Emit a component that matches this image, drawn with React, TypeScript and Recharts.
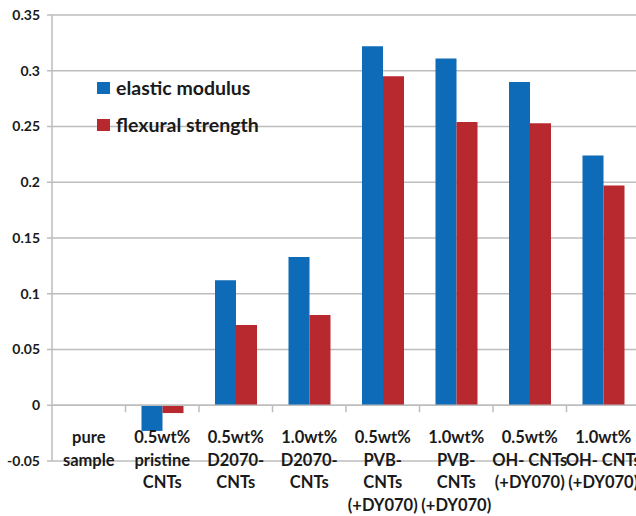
import { BarChart, Bar, XAxis, YAxis, CartesianGrid, Legend, ReferenceLine } from 'recharts';

const categories = [
  'pure\nsample',
  '0.5wt%\npristine\nCNTs',
  '0.5wt%\nD2070-\nCNTs',
  '1.0wt%\nD2070-\nCNTs',
  '0.5wt%\nPVB-\nCNTs\n(+DY070)',
  '1.0wt%\nPVB-\nCNTs\n(+DY070)',
  '0.5wt%\nOH- CNTs\n(+DY070)',
  '1.0wt%\nOH- CNTs\n(+DY070)',
];
const elasticModulus = [0, -0.023, 0.112, 0.133, 0.322, 0.311, 0.29, 0.224];
const flexuralStrength = [0, -0.007, 0.072, 0.081, 0.295, 0.254, 0.253, 0.197];
const yTicks = [-0.05, 0, 0.05, 0.1, 0.15, 0.2, 0.25, 0.3, 0.35];

const data = categories.map((name, i) => ({
  name,
  elastic: elasticModulus[i],
  flexural: flexuralStrength[i],
}));

const BLUE = '#0d6bb8';
const RED = '#b8282f';
const AXIS = '#bdbdbd';

const CategoryTick = (props: any) => {
  const { x, y, payload } = props;
  const lines = String(payload.value).split('\n');
  return (
    <text
      x={x}
      y={y}
      textAnchor="middle"
      fontFamily="Lato"
      fontWeight={700}
      fontSize={16.5}
      fill="#1a1a1a"
    >
      {lines.map((line, i) => (
        <tspan key={i} x={x} y={y - 24 + i * 22.7} dominantBaseline="central">
          {line}
        </tspan>
      ))}
    </text>
  );
};

// zero line with little tick marks between categories
const ZeroLine = (props: any) => {
  const { x1, x2, y1 } = props;
  const n = categories.length;
  const step = (x2 - x1) / n;
  return (
    <g>
      <line x1={x1} x2={x2} y1={y1} y2={y1} stroke={AXIS} strokeWidth={1.5} />
      {categories.slice(1).map((_, k) => (
        <line
          key={k}
          x1={x1 + step * (k + 1)}
          x2={x1 + step * (k + 1)}
          y1={y1}
          y2={y1 + 7}
          stroke={AXIS}
          strokeWidth={1.5}
        />
      ))}
    </g>
  );
};

const LegendContent = (props: any) => {
  const { payload } = props;
  return (
    <div style={{ fontFamily: 'Lato', fontWeight: 700, fontSize: 19.5, color: '#1a1a1a' }}>
      {(payload || []).map((p: any) => (
        <div key={p.value} style={{ display: 'flex', alignItems: 'center', height: 37 }}>
          <span
            style={{ width: 13, height: 12, background: p.color, display: 'inline-block', marginRight: 6 }}
          />
          <span>{p.value}</span>
        </div>
      ))}
    </div>
  );
};

export default function App() {
  return (
    <div
      style={{
        position: 'absolute',
        left: 0,
        top: 0,
        width: 636,
        height: 516,
        overflow: 'hidden',
        background: '#fff',
      }}
    >
      <BarChart
        width={640}
        height={516}
        data={data}
        margin={{ top: 15, right: 0, left: 0, bottom: 0 }}
        barGap={0}
        barSize={21}
        style={{ fontFamily: 'Lato' }}
      >
        <CartesianGrid vertical={false} stroke={AXIS} strokeWidth={1.5} />
        <XAxis
          dataKey="name"
          axisLine={false}
          tickLine={false}
          tickSize={0}
          tickMargin={0}
          height={55}
          interval={0}
          tick={<CategoryTick />}
        />
        <YAxis
          width={52}
          domain={[-0.05, 0.35]}
          ticks={yTicks}
          interval={0}
          tickFormatter={(v: number) => String(v)}
          axisLine={{ stroke: AXIS, strokeWidth: 1.5 }}
          tickLine={{ stroke: AXIS, strokeWidth: 1.5 }}
          tickSize={5}
          tickMargin={7}
          tick={{ fill: '#1a1a1a', fontSize: 14, fontWeight: 700, fontFamily: 'Lato' }}
        />
        <ReferenceLine y={0} shape={<ZeroLine />} />
        <Legend
          layout="vertical"
          align="center"
          verticalAlign="middle"
          content={<LegendContent />}
          wrapperStyle={{ left: 97, top: 69, width: 220 }}
        />
        <Bar dataKey="elastic" name="elastic modulus" fill={BLUE} isAnimationActive={false} />
        <Bar dataKey="flexural" name="flexural strength" fill={RED} isAnimationActive={false} />
      </BarChart>
    </div>
  );
}
